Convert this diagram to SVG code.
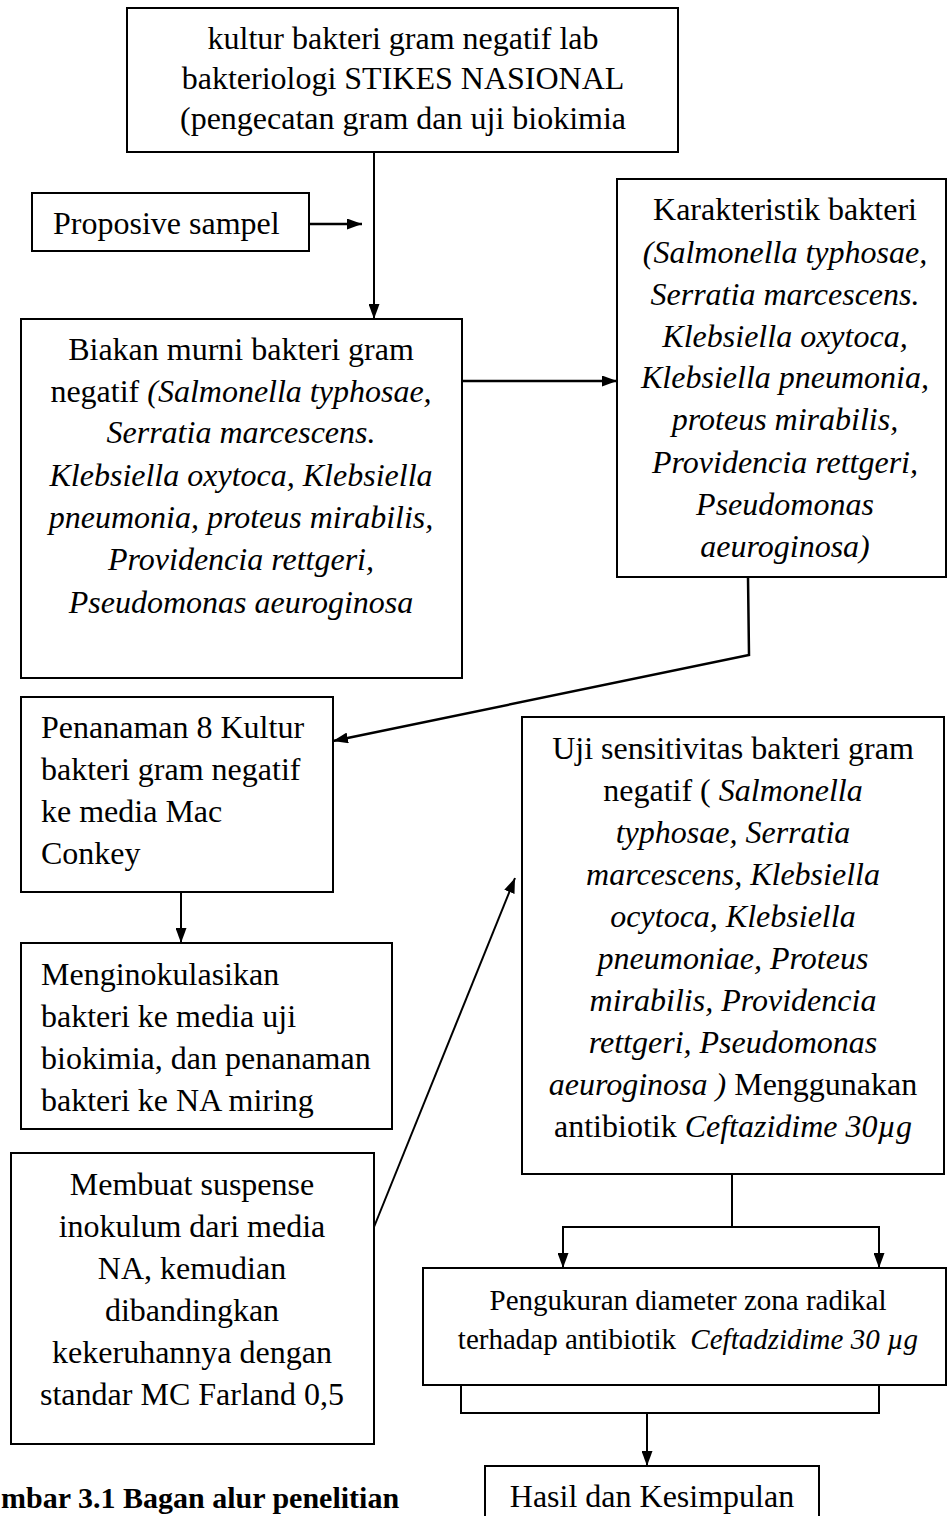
<svg xmlns="http://www.w3.org/2000/svg" width="947" height="1516" viewBox="0 0 947 1516">
<style>
.box{fill:#fff;stroke:#000;stroke-width:2}
.t{font-family:"Liberation Serif","Times New Roman",serif;font-size:32px;fill:#000}
.c{text-anchor:middle}
.i{font-style:italic}
.ln{fill:none;stroke:#000;stroke-width:2}
.ln2{fill:none;stroke:#000;stroke-width:2.5}
</style>
<defs>
<marker id="ah" viewBox="0 0 15 11" refX="15" refY="5.5" markerWidth="15" markerHeight="11" markerUnits="userSpaceOnUse" orient="auto">
<path d="M0,0 L15,5.5 L0,11 Z" fill="#000"/>
</marker>
</defs>
<rect width="947" height="1516" fill="#fff"/>
<g id="connectors">
<line class="ln" x1="374" y1="152" x2="374" y2="319" marker-end="url(#ah)"/>
<line class="ln2" x1="309" y1="224" x2="362" y2="224" marker-end="url(#ah)"/>
<line class="ln2" x1="462" y1="381" x2="617" y2="381" marker-end="url(#ah)"/>
<polyline class="ln2" points="748,577 749,655 333,741" marker-end="url(#ah)"/>
<line class="ln" x1="181" y1="892" x2="181" y2="943" marker-end="url(#ah)"/>
<line class="ln" x1="374" y1="1227" x2="515" y2="878" marker-end="url(#ah)"/>
<line class="ln" x1="732" y1="1174" x2="732" y2="1227"/>
<polyline class="ln" points="563,1268 563,1227 879,1227 879,1268"/>
<line class="ln" x1="563" y1="1240" x2="563" y2="1268" marker-end="url(#ah)"/>
<line class="ln" x1="879" y1="1240" x2="879" y2="1268" marker-end="url(#ah)"/>
<polyline class="ln" points="461,1385 461,1413 879,1413 879,1385"/>
<line class="ln" x1="647" y1="1413" x2="647" y2="1466" marker-end="url(#ah)"/>
</g>
<g id="n1">
<rect class="box" x="127" y="8" width="551" height="144"/>
<text class="t c" x="403" y="49">kultur bakteri gram negatif lab</text>
<text class="t c" x="403" y="89">bakteriologi STIKES NASIONAL</text>
<text class="t c" x="403" y="129">(pengecatan gram dan uji biokimia</text>
</g>
<g id="n2">
<rect class="box" x="32" y="193" width="277" height="58"/>
<text class="t" x="53" y="234">Proposive sampel</text>
</g>
<g id="n3">
<rect class="box" x="21" y="319" width="441" height="359"/>
<text class="t c" x="241" y="360">Biakan murni bakteri gram</text>
<text class="t c" x="241" y="402">negatif <tspan class="i">(Salmonella typhosae,</tspan></text>
<text class="t c i" x="241" y="443">Serratia marcescens.</text>
<text class="t c i" x="241" y="486">Klebsiella oxytoca, Klebsiella</text>
<text class="t c i" x="241" y="528">pneumonia, proteus mirabilis,</text>
<text class="t c i" x="241" y="570">Providencia rettgeri,</text>
<text class="t c i" x="241" y="613">Pseudomonas aeuroginosa</text>
</g>
<g id="n4">
<rect class="box" x="617" y="179" width="329" height="398"/>
<text class="t c" x="785" y="220">Karakteristik bakteri</text>
<text class="t c i" x="785" y="263">(Salmonella typhosae,</text>
<text class="t c i" x="785" y="305">Serratia marcescens.</text>
<text class="t c i" x="785" y="347">Klebsiella oxytoca,</text>
<text class="t c i" x="785" y="388">Klebsiella pneumonia,</text>
<text class="t c i" x="785" y="430">proteus mirabilis,</text>
<text class="t c i" x="785" y="473">Providencia rettgeri,</text>
<text class="t c i" x="785" y="515">Pseudomonas</text>
<text class="t c i" x="785" y="557">aeuroginosa)</text>
</g>
<g id="n5">
<rect class="box" x="21" y="697" width="312" height="195"/>
<text class="t" x="41" y="738">Penanaman 8 Kultur</text>
<text class="t" x="41" y="780">bakteri gram negatif</text>
<text class="t" x="41" y="822">ke media Mac</text>
<text class="t" x="41" y="864">Conkey</text>
</g>
<g id="n6">
<rect class="box" x="21" y="943" width="371" height="186"/>
<text class="t" x="41" y="985">Menginokulasikan</text>
<text class="t" x="41" y="1027">bakteri ke media uji</text>
<text class="t" x="41" y="1069">biokimia, dan penanaman</text>
<text class="t" x="41" y="1111">bakteri ke NA miring</text>
</g>
<g id="n7">
<rect class="box" x="522" y="717" width="422" height="457"/>
<text class="t c" x="733" y="759">Uji sensitivitas bakteri gram</text>
<text class="t c" x="733" y="801">negatif ( <tspan class="i">Salmonella</tspan></text>
<text class="t c i" x="733" y="843">typhosae, Serratia</text>
<text class="t c i" x="733" y="885">marcescens, Klebsiella</text>
<text class="t c i" x="733" y="927">ocytoca, Klebsiella</text>
<text class="t c i" x="733" y="969">pneumoniae, Proteus</text>
<text class="t c i" x="733" y="1011">mirabilis, Providencia</text>
<text class="t c i" x="733" y="1053">rettgeri, Pseudomonas</text>
<text class="t c" x="733" y="1095"><tspan class="i">aeuroginosa )</tspan> Menggunakan</text>
<text class="t c" x="733" y="1137">antibiotik <tspan class="i">Ceftazidime 30µg</tspan></text>
</g>
<g id="n8">
<rect class="box" x="11" y="1153" width="363" height="291"/>
<text class="t c" x="192" y="1195">Membuat suspense</text>
<text class="t c" x="192" y="1237">inokulum dari media</text>
<text class="t c" x="192" y="1279">NA, kemudian</text>
<text class="t c" x="192" y="1321">dibandingkan</text>
<text class="t c" x="192" y="1363">kekeruhannya dengan</text>
<text class="t c" x="192" y="1405">standar MC Farland 0,5</text>
</g>
<g id="n9">
<rect class="box" x="423" y="1268" width="523" height="117"/>
<text class="t c" x="688" y="1310" style="font-size:29px">Pengukuran diameter zona radikal</text>
<text class="t c" x="688" y="1349" style="font-size:29px">terhadap antibiotik <tspan class="i" dx="7">Ceftadzidime 30 µg</tspan></text>
</g>
<g id="n10">
<rect class="box" x="485" y="1466" width="334" height="70"/>
<text class="t c" x="652" y="1507">Hasil dan Kesimpulan</text>
</g>
<g id="caption">
<text class="t" x="1" y="1508" style="font-weight:bold;font-size:30px">mbar 3.1 Bagan alur penelitian</text>
</g>
</svg>
